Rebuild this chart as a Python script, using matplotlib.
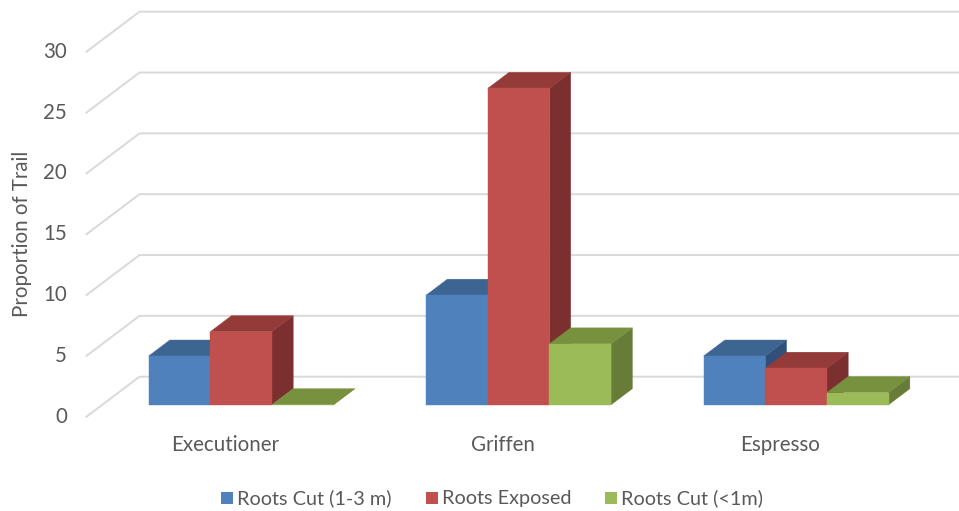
import matplotlib
matplotlib.use("Agg")
import matplotlib.pyplot as plt
from matplotlib.transforms import Affine2D, IdentityTransform
from matplotlib.patches import Polygon, Rectangle
from matplotlib.lines import Line2D

# ---------------- data ----------------
categories = ["Executioner", "Griffen", "Espresso"]
series_names = ["Roots Cut (1-3 m)", "Roots Exposed", "Roots Cut (<1m)"]
roots_cut_1_3m = [4, 9, 4]
roots_exposed = [6, 26, 3]
roots_cut_lt1m = [0, 5, 1]
y_ticks = [0, 5, 10, 15, 20, 25, 30]
y_label = "Proportion of Trail"

series_values = [roots_cut_1_3m, roots_exposed, roots_cut_lt1m]

# ---------------- style ----------------
front_colors = ["#4F81BD", "#C0504D", "#9BBB59"]
top_colors = ["#3D6591", "#943B39", "#77913F"]
side_colors = ["#30507A", "#7B2F2E", "#667C37"]
grid_color = "#D9D9D9"
text_color = "#595959"
FONT = ["Lato", "DejaVu Sans"]
FS = 14.8

W, H, DPI = 959, 511, 100
fig = plt.figure(figsize=(W / DPI, H / DPI), dpi=DPI)
fig.patch.set_facecolor("white")

# front plane of the 3D box (pixel geometry)
x_left, x_right = 86.5, 919.0
y_bottom, y_top = 416.7, 51.7
ax = fig.add_axes([x_left / W, (H - y_bottom) / H,
                   (x_right - x_left) / W, (y_bottom - y_top) / H])
ax.set_xlim(0, len(categories))
ax.set_ylim(y_ticks[0], y_ticks[-1])
ax.axis("off")

DEPTH_DX, DEPTH_DY = 53.0, 40.0  # pixel shift from front to back wall
Z_FRONT, Z_BACK = 0.3, 0.7       # depth occupied by the bars


def T(z):
    return ax.transData + Affine2D().translate(DEPTH_DX * z, DEPTH_DY * z)


def proj(x, y, z):
    return T(z).transform((x, y))


ident = IdentityTransform()

# ---------------- gridlines (side wall + back wall) ----------------
for v in y_ticks:
    p0 = proj(0, v, 0)
    p1 = proj(0, v, 1)
    p2 = proj(len(categories), v, 1)
    fig.add_artist(Line2D([p0[0], p1[0], p2[0]], [p0[1], p1[1], p2[1]],
                          transform=ident, color=grid_color, lw=1.4,
                          solid_joinstyle="miter", zorder=1))

# ---------------- bars ----------------
n_series = len(series_values)
bar_w = (2.0 / 3.0) / n_series
for i in range(len(categories)):
    for j in range(n_series):
        v = series_values[j][i]
        x0 = i + 0.5 + (j - n_series / 2.0) * bar_w
        x1 = x0 + bar_w
        side = [proj(x1, 0, Z_FRONT), proj(x1, v, Z_FRONT),
                proj(x1, v, Z_BACK), proj(x1, 0, Z_BACK)]
        top = [proj(x0, v, Z_FRONT), proj(x1, v, Z_FRONT),
               proj(x1, v, Z_BACK), proj(x0, v, Z_BACK)]
        front = [proj(x0, 0, Z_FRONT), proj(x1, 0, Z_FRONT),
                 proj(x1, v, Z_FRONT), proj(x0, v, Z_FRONT)]
        for pts, col in ((side, side_colors[j]), (top, top_colors[j]),
                         (front, front_colors[j])):
            fig.add_artist(Polygon(pts, closed=True, transform=ident,
                                   facecolor=col, edgecolor=col, lw=0.3,
                                   zorder=2))

# ---------------- tick labels ----------------
for v in y_ticks:
    px, py = proj(0, v, 0)
    fig.text((px - 19.5) / W, py / H, str(v), ha="right", va="center",
             fontsize=FS, color=text_color, family=FONT)

for i, c in enumerate(categories):
    px, py = proj(i + 0.5, 0, 0)
    fig.text(px / W, (py - 28) / H, c, ha="center", va="center",
             fontsize=FS, color=text_color, family=FONT)

fig.text(22 / W, (H - 234) / H, y_label, rotation=90, ha="center",
         va="center", fontsize=FS, color=text_color, family=FONT)

# ---------------- legend (manual layout) ----------------
legend_square_x = [221, 426, 605]
legend_y = 498
sq = 11.5
for name, col, sx in zip(series_names, front_colors, legend_square_x):
    fig.add_artist(Rectangle((sx / W, (H - legend_y - sq / 2) / H),
                             sq / W, sq / H, transform=fig.transFigure,
                             facecolor=col, edgecolor="none"))
    fig.text((sx + sq + 4.5) / W, (H - legend_y) / H, name, ha="left",
             va="center", fontsize=14.3, color=text_color, family=FONT)

fig.savefig("out.png", dpi=DPI, facecolor="white")
